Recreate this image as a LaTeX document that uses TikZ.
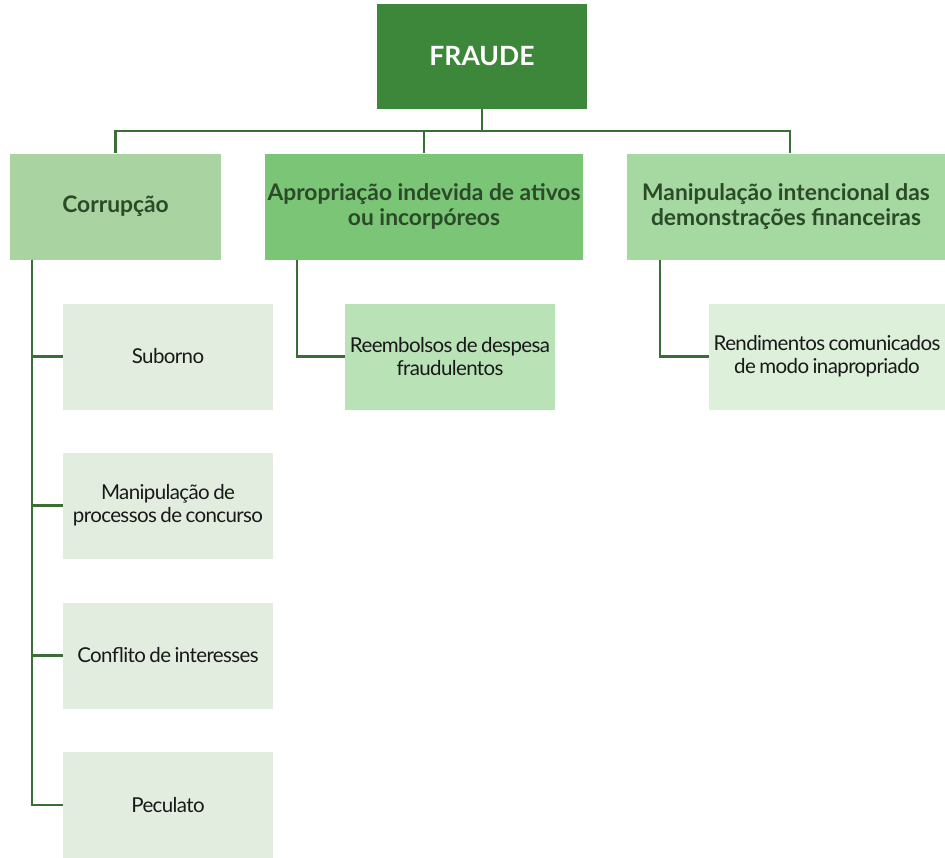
\documentclass[tikz,border=0pt]{standalone}
\usepackage{fontspec}
\setmainfont{Lato}
\newfontfamily\leaffam[LetterSpace=-3]{Lato}
\definecolor{lineg}{HTML}{3B6E37}
\definecolor{fraudeg}{HTML}{3D873B}
\definecolor{corrg}{HTML}{A9D3A0}
\definecolor{aprog}{HTML}{7BC576}
\definecolor{manig}{HTML}{A6D8A2}
\definecolor{leafg}{HTML}{E2EDDF}
\definecolor{reemg}{HTML}{B9E3B7}
\definecolor{rendg}{HTML}{DDF0DA}
\definecolor{lvltext}{HTML}{2A4A28}
\newcommand\tightsp{\spaceskip=3.5pt plus 0.5pt\relax}
\tikzset{
  boxbase/.style={rectangle, inner sep=0pt, align=center},
  topbox/.style={boxbase, fill=fraudeg, minimum width=210pt, minimum height=105pt,
    text=white, font=\fontsize{26.5}{30}\selectfont\bfseries},
  lvlbox/.style={boxbase, minimum height=106pt, text=lvltext,
    font=\fontsize{22.8}{25}\selectfont\bfseries},
  leafbox/.style={boxbase, minimum width=210pt, minimum height=106pt, text=black!90,
    font=\leaffam\fontsize{20.5}{23}\selectfont},
  conn/.style={draw=lineg, line width=2.2pt}
}
\begin{document}
\begin{tikzpicture}[x=1pt,y=-1pt]
\useasboundingbox (0,0) rectangle (945,857);
\node[topbox] (fraude) at (482,56) {FRAUDE};
\node[lvlbox, fill=corrg, minimum width=211pt] (corr) at (115.5,206.5) {Corrupção};
\node[lvlbox, fill=aprog, minimum width=318pt] (apro) at (424,206.5) {Apropriação indevida de ativos\\ou incorpóreos};
\node[lvlbox, fill=manig, minimum width=318pt] (mani) at (786,206.5) {Manipulação intencional das\\demonstrações financeiras};
\node[leafbox, fill=leafg] (sub) at (168,356.5) {Suborno};
\node[leafbox, fill=leafg] (proc) at (168,505.5) {\tightsp Manipulação de\\\tightsp processos de concurso};
\node[leafbox, fill=leafg] (conf) at (168,655.5) {\tightsp Conflito de interesses};
\node[leafbox, fill=leafg] (pec) at (168,805) {Peculato};
\node[leafbox, fill=reemg] (reem) at (450,356.5) {\tightsp Reembolsos de despesa\\\tightsp fraudulentos};
\node[leafbox, fill=rendg, minimum width=236pt] (rend) at (827,356.5) {\tightsp Rendimentos comunicados\\\tightsp de modo inapropriado};
\coordinate (hub) at ([yshift=-22pt]fraude.south);
\draw[conn] (fraude.south) -- (hub);
\draw[conn] (hub) -| (corr.north);
\draw[conn] (hub) -| (apro.north);
\draw[conn] (hub) -| ([xshift=4pt]mani.north);
\coordinate (cl) at ([xshift=22pt]corr.south west);
\draw[conn] (cl) |- (sub.west);
\draw[conn] (cl) |- (proc.west);
\draw[conn] (cl) |- (conf.west);
\draw[conn] (cl) |- (pec.west);
\coordinate (al) at ([xshift=32pt]apro.south west);
\draw[conn] (al) |- (reem.west);
\coordinate (ml) at ([xshift=33pt]mani.south west);
\draw[conn] (ml) |- (rend.west);
\end{tikzpicture}
\end{document}
